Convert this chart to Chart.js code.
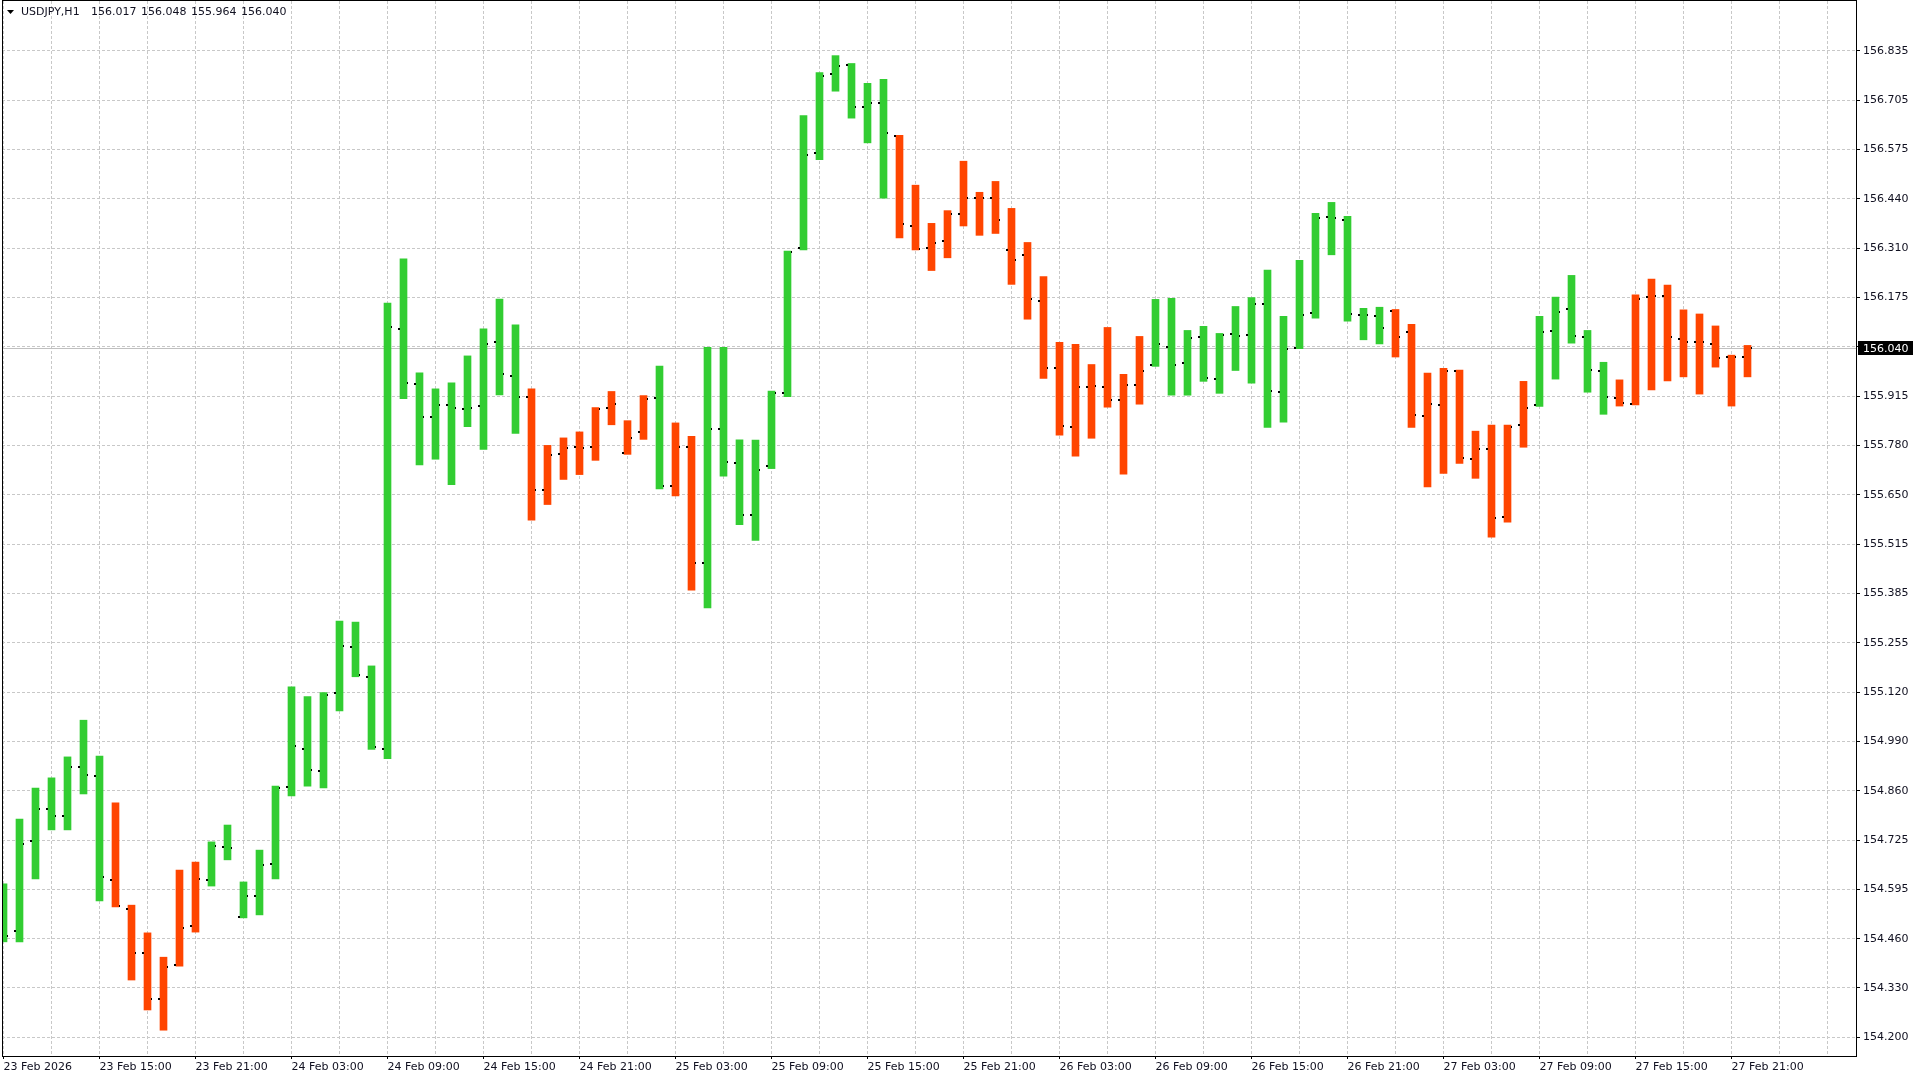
<!DOCTYPE html>
<html>
<head>
<meta charset="utf-8">
<title>USDJPY,H1</title>
<script src="https://cdn.jsdelivr.net/npm/chart.js@4.4.1/dist/chart.umd.min.js"></script>
<style>
  html, body { margin: 0; padding: 0; background: #fff; overflow: hidden; }
  #wrap { width: 1920px; height: 1080px; }
</style>
</head>
<body>
<div id="wrap"><canvas id="chart"></canvas></div>
<script>
// USDJPY H1, one bar per hour from 23 Feb 2026 09:00 to 27 Feb 22:00
const symbol = 'USDJPY,H1';

const openP = [
  154.520, 154.485, 154.724, 154.810, 154.791, 154.922, 154.898, 154.620, 154.543, 154.425,
  154.302, 154.393, 154.497, 154.620, 154.708, 154.522, 154.577, 154.663, 154.869, 154.970,
  154.911, 155.120, 155.243, 155.162, 154.969, 156.093, 155.945, 155.856, 155.890, 155.877,
  155.886, 156.056, 155.965, 155.909, 155.663, 155.758, 155.778, 155.778, 155.882, 155.760,
  155.818, 155.907, 155.673, 155.776, 155.466, 155.825, 155.734, 155.596, 155.726, 155.921,
  156.308, 156.562, 156.773, 156.796, 156.684, 156.695, 156.607, 156.367, 156.308, 156.326,
  156.399, 156.443, 156.441, 156.302, 156.289, 156.166, 155.989, 155.829, 155.936, 155.936,
  155.901, 155.941, 155.997, 156.043, 156.000, 156.070, 155.957, 156.078, 156.075, 156.158,
  155.923, 156.041, 156.134, 156.390, 156.382, 156.128, 156.126, 156.139, 156.083, 155.859,
  155.888, 155.979, 155.744, 155.771, 155.589, 155.835, 155.888, 156.086, 156.144, 156.070,
  155.979, 155.908, 155.892, 156.177, 156.180, 156.065, 156.057, 156.052, 156.017, 156.017
];
const highP = [
  154.610, 154.783, 154.866, 154.893, 154.949, 155.047, 154.951, 154.826, 154.553, 154.479,
  154.414, 154.647, 154.668, 154.722, 154.767, 154.615, 154.700, 154.871, 155.136, 155.110,
  155.121, 155.312, 155.309, 155.192, 156.161, 156.279, 155.975, 155.932, 155.948, 156.020,
  156.092, 156.172, 156.103, 155.932, 155.781, 155.801, 155.817, 155.882, 155.925, 155.847,
  155.914, 155.993, 155.841, 155.805, 156.043, 156.043, 155.796, 155.795, 155.926, 156.300,
  156.662, 156.777, 156.822, 156.801, 156.748, 156.759, 156.609, 156.476, 156.374, 156.408,
  156.540, 156.457, 156.486, 156.414, 156.323, 156.232, 156.056, 156.051, 155.997, 156.096,
  155.971, 156.072, 156.171, 156.174, 156.088, 156.099, 156.080, 156.152, 156.176, 156.249,
  156.126, 156.275, 156.401, 156.430, 156.393, 156.147, 156.150, 156.144, 156.104, 155.974,
  155.987, 155.982, 155.819, 155.835, 155.835, 155.952, 156.126, 156.177, 156.235, 156.088,
  156.003, 155.956, 156.183, 156.225, 156.209, 156.143, 156.132, 156.100, 156.022, 156.048
];
const lowP = [
  154.455, 154.455, 154.623, 154.754, 154.754, 154.850, 154.564, 154.548, 154.353, 154.273,
  154.219, 154.390, 154.481, 154.604, 154.674, 154.519, 154.527, 154.623, 154.845, 154.871,
  154.866, 155.072, 155.163, 154.969, 154.944, 155.906, 155.729, 155.744, 155.676, 155.831,
  155.770, 155.916, 155.813, 155.581, 155.623, 155.690, 155.703, 155.741, 155.836, 155.757,
  155.797, 155.665, 155.646, 155.394, 155.347, 155.699, 155.569, 155.527, 155.719, 155.911,
  156.303, 156.544, 156.727, 156.655, 156.589, 156.441, 156.335, 156.303, 156.248, 156.282,
  156.367, 156.342, 156.347, 156.211, 156.118, 155.960, 155.808, 155.752, 155.800, 155.883,
  155.704, 155.891, 155.992, 155.915, 155.915, 155.952, 155.920, 155.981, 155.947, 155.829,
  155.843, 156.039, 156.121, 156.290, 156.113, 156.063, 156.052, 156.017, 155.829, 155.670,
  155.706, 155.733, 155.693, 155.536, 155.576, 155.776, 155.885, 155.958, 156.054, 155.923,
  155.864, 155.886, 155.889, 155.929, 155.953, 155.964, 155.918, 155.990, 155.886, 155.964
];
const closeP = [
  154.471, 154.716, 154.810, 154.791, 154.922, 154.901, 154.628, 154.551, 154.425, 154.302,
  154.388, 154.492, 154.623, 154.711, 154.706, 154.577, 154.660, 154.866, 154.978, 154.914,
  155.115, 155.245, 155.168, 154.976, 156.096, 155.948, 155.856, 155.890, 155.880, 155.880,
  156.053, 155.971, 155.909, 155.663, 155.755, 155.773, 155.775, 155.877, 155.892, 155.802,
  155.906, 155.673, 155.776, 155.466, 155.825, 155.736, 155.596, 155.715, 155.921, 156.297,
  156.557, 156.767, 156.794, 156.684, 156.695, 156.615, 156.372, 156.306, 156.322, 156.398,
  156.441, 156.443, 156.382, 156.275, 156.171, 155.989, 155.832, 155.936, 155.939, 155.901,
  155.941, 155.981, 156.051, 155.997, 156.067, 155.960, 156.075, 156.072, 156.158, 155.925,
  156.038, 156.128, 156.388, 156.388, 156.131, 156.128, 156.094, 156.070, 155.861, 155.891,
  155.979, 155.747, 155.771, 155.586, 155.829, 155.880, 156.083, 156.136, 156.072, 155.982,
  155.909, 155.895, 156.172, 156.180, 156.070, 156.057, 156.057, 156.014, 156.017, 156.040
];

// bar colouring of the indicator: u = up (green), d = down (red)
const trend = ('uuuuuuu dddddd uuuuuuuuuuuuuuuuuuuu dddddddd u dd uuuuuuuuuuuu ' +
  'dddddddddddddddd uuuuuuuuuuuuuuu ddddddddd uuuuu ddddddddd').replace(/ /g, '').split('');

// one time label every 6 bars, starting at bar 0
const xTickLabels = [
  '23 Feb 2026', '23 Feb 15:00', '23 Feb 21:00', '24 Feb 03:00', '24 Feb 09:00',
  '24 Feb 15:00', '24 Feb 21:00', '25 Feb 03:00', '25 Feb 09:00', '25 Feb 15:00',
  '25 Feb 21:00', '26 Feb 03:00', '26 Feb 09:00', '26 Feb 15:00', '26 Feb 21:00',
  '27 Feb 03:00', '27 Feb 09:00', '27 Feb 15:00', '27 Feb 21:00'
];
const yTickLabels = [
  '156.835', '156.705', '156.575', '156.440', '156.310', '156.175', '156.045',
  '155.915', '155.780', '155.650', '155.515', '155.385', '155.255', '155.120',
  '154.990', '154.860', '154.725', '154.595', '154.460', '154.330', '154.200'
];

const UP = '#32cd32';
const DOWN = '#ff4500';
const GRID = '#c8c8c8';
const TEXT = '#101020';

Chart.defaults.font.family = "'DejaVu Sans', sans-serif";
Chart.defaults.font.size = 11;
Chart.defaults.color = TEXT;

const lastClose = closeP[closeP.length - 1];
const yFirst = parseFloat(yTickLabels[0]);
const yLast = parseFloat(yTickLabels[yTickLabels.length - 1]);
const yStep = (yFirst - yLast) / (yTickLabels.length - 1);

// vertical grid every 3 bars
const xGrid = [];
for (let v = 0; v <= 114; v += 3) xGrid.push(v);

const barData = highP.map((h, i) => ({ x: i, y: [lowP[i], h] }));

function noPad(axis) {
  axis.paddingLeft = 0;
  axis.paddingRight = 0;
  axis.paddingTop = 0;
  axis.paddingBottom = 0;
}

const mt4Bits = {
  id: 'mt4Bits',
  beforeDatasetsDraw(chart) {
    const { ctx, chartArea, scales } = chart;
    const py = Math.round(scales.y.getPixelForValue(lastClose)) + 0.5;
    ctx.save();
    ctx.strokeStyle = '#c0c0c0';
    ctx.lineWidth = 1;
    ctx.beginPath();
    ctx.moveTo(chartArea.left, py);
    ctx.lineTo(chartArea.right, py);
    ctx.stroke();
    ctx.restore();
  },
  afterDatasetsDraw(chart) {
    const { ctx, chartArea, scales } = chart;
    ctx.save();
    ctx.beginPath();
    ctx.rect(chartArea.left, chartArea.top, chartArea.right - chartArea.left, chartArea.bottom - chartArea.top);
    ctx.clip();
    ctx.fillStyle = '#000';
    for (let i = 0; i < openP.length; i++) {
      const px = scales.x.getPixelForValue(i);
      const yo = Math.round(scales.y.getPixelForValue(openP[i]));
      const yc = Math.round(scales.y.getPixelForValue(closeP[i]));
      ctx.fillRect(Math.round(px - 5.5), yo - 1, 2, 2);
      ctx.fillRect(Math.round(px + 3.5), yc - 1, 1, 2);
    }
    ctx.restore();
  },
  afterDraw(chart) {
    const { ctx, chartArea, scales } = chart;
    ctx.save();
    // frame
    ctx.strokeStyle = '#000';
    ctx.lineWidth = 1;
    ctx.strokeRect(chartArea.left + 0.5, chartArea.top - 0.5, chartArea.right - chartArea.left, chartArea.bottom - chartArea.top + 1);

    // current price tag
    const py = scales.y.getPixelForValue(lastClose);
    ctx.fillStyle = '#000';
    ctx.fillRect(chartArea.right + 2, Math.round(py) - 7, 55, 14);
    ctx.fillStyle = '#fff';
    ctx.font = "11px 'DejaVu Sans'";
    ctx.textBaseline = 'middle';
    ctx.textAlign = 'left';
    ctx.fillText(lastClose.toFixed(3), chartArea.right + 7, py + 0.5);

    // header
    const n = openP.length - 1;
    ctx.fillStyle = '#000';
    ctx.beginPath();
    ctx.moveTo(7, 10); ctx.lineTo(14, 10); ctx.lineTo(10.5, 14); ctx.closePath();
    ctx.fill();
    ctx.fillStyle = TEXT;
    ctx.fillText(symbol, 21, 12.5);
    [openP[n], highP[n], lowP[n], closeP[n]].forEach((v, k) => {
      ctx.fillText(v.toFixed(3), 91 + k * 50, 12.5);
    });
    ctx.restore();
  }
};

new Chart(document.getElementById('chart'), {
  type: 'bar',
  data: {
    datasets: [{
      data: barData,
      backgroundColor: trend.map(t => t === 'u' ? UP : DOWN),
      borderWidth: 0,
      borderSkipped: false,
      barThickness: 7
    }]
  },
  options: {
    responsive: true,
    maintainAspectRatio: false,
    animation: false,
    layout: { padding: { left: 2, top: 1, right: 0, bottom: 0 } },
    plugins: { legend: { display: false }, tooltip: { enabled: false } },
    scales: {
      x: {
        type: 'linear',
        offset: false,
        min: -0.09375,
        max: 115.78125,
        afterBuildTicks: (axis) => { axis.ticks = xGrid.map(v => ({ value: v })); },
        afterFit: (axis) => { axis.height = 24; noPad(axis); },
        grid: {
          offset: false,
          color: GRID,
          tickLength: 3,
          tickColor: (c) => (c.tick && c.tick.value % 6 === 0 && c.tick.value / 6 < xTickLabels.length) ? '#000' : 'rgba(0,0,0,0)'
        },
        border: { display: true, color: '#000', width: 1, dash: [3, 2] },
        ticks: {
          autoSkip: false,
          maxRotation: 0,
          minRotation: 0,
          align: 'start',
          padding: 2,
          color: TEXT,
          callback: (v) => (v % 6 === 0 && xTickLabels[v / 6]) ? xTickLabels[v / 6] : ''
        }
      },
      y: {
        type: 'linear',
        position: 'right',
        min: 154.1501,
        max: 156.9679,
        afterBuildTicks: (axis) => {
          axis.ticks = yTickLabels.map((t, k) => ({ value: yFirst - k * yStep }));
        },
        afterFit: (axis) => { axis.width = 64; noPad(axis); },
        grid: { color: GRID, tickLength: 4, tickColor: '#000' },
        border: { display: true, color: '#000', width: 1, dash: [3, 2] },
        ticks: {
          padding: 3,
          color: TEXT,
          callback: (v, idx) => Math.abs(v - lastClose) < 0.02 ? '' : yTickLabels[idx]
        }
      }
    }
  },
  plugins: [mt4Bits]
});
</script>
</body>
</html>
